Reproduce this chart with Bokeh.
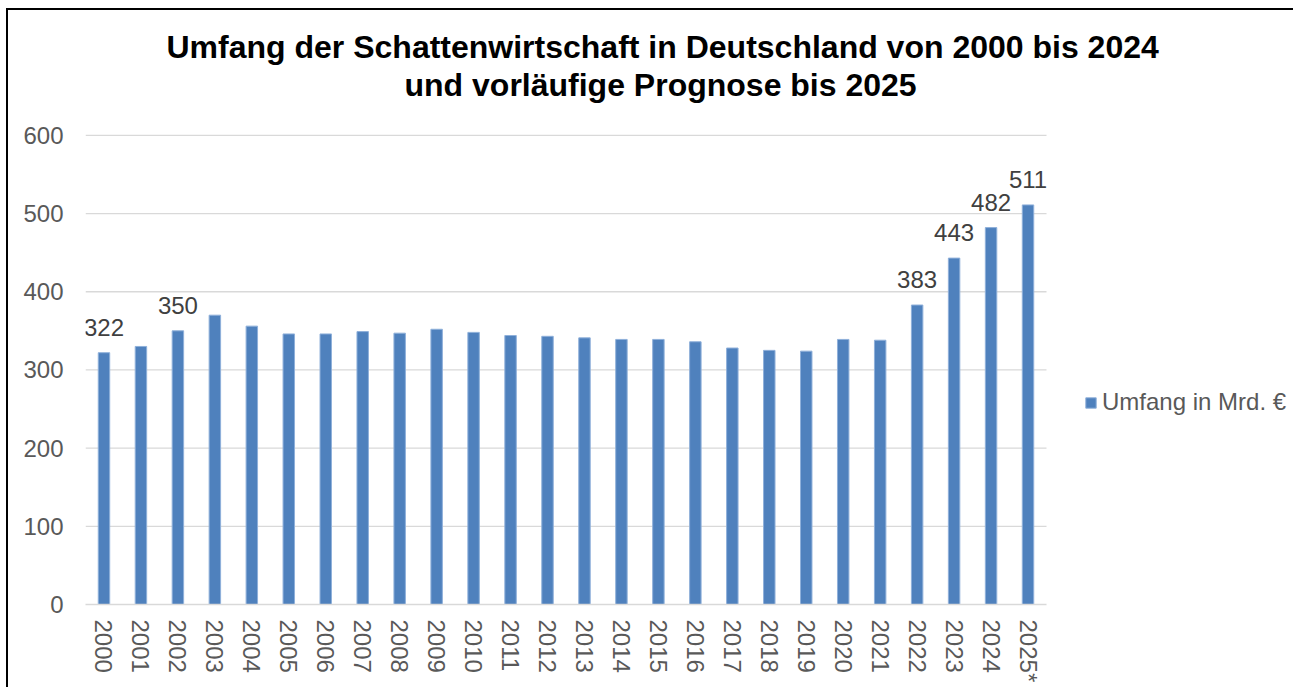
from bokeh.plotting import figure
from bokeh.models import (ColumnDataSource, LabelSet, Legend, LegendItem, Title,
                          Range1d, FixedTicker)
from bokeh.core.properties import value
from bokeh.embed import file_html
from bokeh.resources import INLINE

# ---- data ----
years = ["2000", "2001", "2002", "2003", "2004", "2005", "2006", "2007", "2008",
         "2009", "2010", "2011", "2012", "2013", "2014", "2015", "2016", "2017",
         "2018", "2019", "2020", "2021", "2022", "2023", "2024", "2025*"]
values = [322, 330, 350, 370, 356, 346, 346, 349, 347, 352, 348, 344, 343, 341,
          339, 339, 336, 328, 325, 324, 339, 338, 383, 443, 482, 511]
value_labels = ["322", "", "350", "", "", "", "", "", "", "", "", "", "", "",
                "", "", "", "", "", "", "", "", "383", "443", "482", "511"]
series_name = "Umfang in Mrd. €"
title_lines = ["Umfang der Schattenwirtschaft in Deutschland von 2000 bis 2024",
               "und vorläufige Prognose bis 2025"]
y_ticks = [0, 100, 200, 300, 400, 500, 600]

FONT = "Liberation Sans"
BAR = "#4F81BD"
GRID = "#D9D9D9"

n = len(years)
pos = list(range(n))
src = ColumnDataSource(dict(x=pos, year=years, value=values, label=value_labels))

# frame spans wider than the category band so the legend can sit inside it
x_end = -0.5 + n * 1210 / 961
p = figure(width=1287, height=679, output_backend="svg", toolbar_location=None,
           x_range=Range1d(-0.5, x_end), y_range=Range1d(0, 642),
           min_border_left=77, min_border_right=0, min_border_top=92,
           min_border_bottom=85)
p.margin = (8, 0, 0, 6)
p.styles = {"border-left": "2px solid #000000", "border-top": "2px solid #000000"}
p.outline_line_color = None
p.background_fill_color = "white"
p.border_fill_color = "white"

# horizontal gridlines limited to the category band
grid_y = y_ticks[1:]
p.segment(x0=[-0.5] * len(grid_y), x1=[n - 0.5] * len(grid_y), y0=grid_y, y1=grid_y,
          line_color=GRID, line_width=1.3)

r = p.vbar(x="x", top="value", width=0.31, source=src,
           fill_color=BAR, line_color="#8FB0DA", line_width=1)

labels = LabelSet(x="x", y="value", text="label", source=src,
                  text_align="center", text_baseline="alphabetic", y_offset=17,
                  text_font=value(FONT), text_font_size=value("24px"),
                  text_color="#404040")
p.add_layout(labels)

# axes
p.yaxis.ticker = FixedTicker(ticks=y_ticks)
p.yaxis.axis_line_color = None
p.yaxis.major_tick_line_color = None
p.yaxis.minor_tick_line_color = None
p.yaxis.major_tick_out = 0
p.yaxis.major_tick_in = 0
p.yaxis.major_label_standoff = 22
p.yaxis.major_label_text_font = FONT
p.yaxis.major_label_text_font_size = "24px"
p.yaxis.major_label_text_color = "#595959"

p.xaxis.ticker = FixedTicker(ticks=pos)
p.xaxis.major_label_overrides = {i: y for i, y in zip(pos, years)}
p.xaxis.bounds = (-0.5, n - 0.5)
p.xaxis.axis_line_color = GRID
p.xaxis.axis_line_width = 1.3
p.xaxis.major_tick_line_color = None
p.xaxis.minor_tick_line_color = None
p.xaxis.major_tick_out = 0
p.xaxis.major_tick_in = 0
p.xaxis.major_label_standoff = 15
p.xaxis.major_label_orientation = "vertical"
p.xaxis.major_label_text_font = FONT
p.xaxis.major_label_text_font_size = "24px"
p.xaxis.major_label_text_color = "#595959"

p.xgrid.grid_line_color = None
p.ygrid.grid_line_color = None

# title: two lines, later-added title sits further from the frame
for txt, off in [(title_lines[1], 319), (title_lines[0], 81)]:
    p.add_layout(Title(text=txt, align="left", offset=off, standoff=0,
                       text_font=FONT, text_font_style="bold",
                       text_font_size="32px", text_color="#000000"), "above")

legend = Legend(items=[LegendItem(label=series_name, renderers=[r])],
                location=(999, 188), glyph_width=13, glyph_height=13,
                label_standoff=5, padding=0, margin=0, spacing=0,
                label_text_font=FONT, label_text_font_size="24px",
                label_text_color="#595959", border_line_color=None,
                background_fill_alpha=0)
p.add_layout(legend)

open("out.html", "w").write(file_html(p, INLINE))
